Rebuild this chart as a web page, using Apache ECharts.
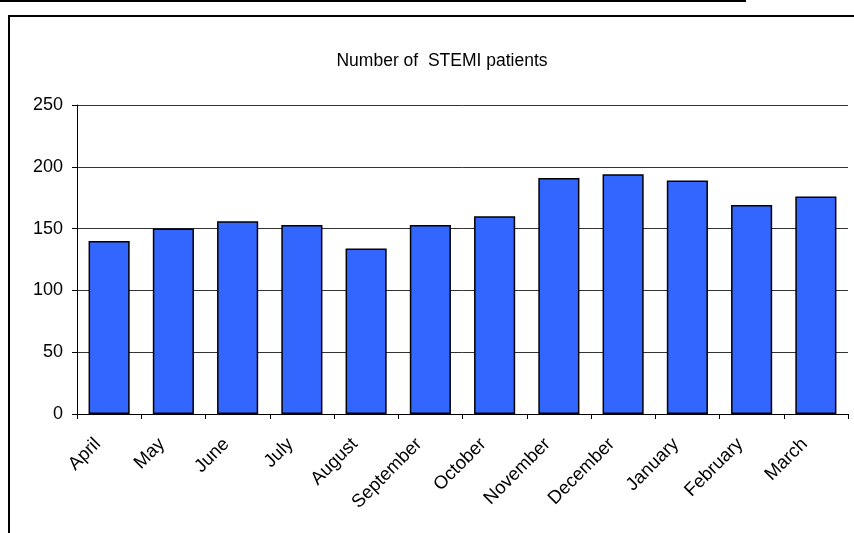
<!DOCTYPE html>
<html>
<head>
<meta charset="utf-8">
<script src="https://cdn.jsdelivr.net/npm/echarts@6/dist/echarts.min.js"></script>
<style>
html,body{margin:0;padding:0;background:#fff;}
#c{width:854px;height:533px;}
</style>
</head>
<body>
<div id="c"></div>
<script>
var categories = ['April','May','June','July','August','September','October','November','December','January','February','March'];
var patients = [140,150,156,153,134,153,160,191,194,189,169,176];
var chartTitle = 'Number of  STEMI patients';

var chart = echarts.init(document.getElementById('c'));
chart.setOption({
  animation: false,
  backgroundColor: '#fff',
  title: {
    text: chartTitle,
    left: 437, top: 47, textAlign: 'center',
    textStyle: {fontFamily: 'Liberation Sans, Arial', fontSize: 17.5, fontWeight: 'normal', color: '#000'}
  },
  graphic: [
    {type: 'rect', shape: {x: 9, y: 16, width: 900, height: 600}, style: {fill: 'none', stroke: '#000', lineWidth: 2}, silent: true, z: -1},
    {type: 'line', shape: {x1: 0, y1: 1, x2: 746, y2: 1}, style: {stroke: '#000', lineWidth: 2}, silent: true}
  ],
  grid: {left: 77, right: 6, top: 105, bottom: 119, containLabel: false},
  xAxis: {
    type: 'category',
    data: categories,
    axisLine: {lineStyle: {color: '#000', width: 1}},
    axisTick: {show: true, length: 5, lineStyle: {color: '#000'}},
    axisLabel: {rotate: 45, margin: 16, padding: [0, 16, 0, 0], fontFamily: 'Liberation Sans, Arial', fontSize: 18.5, color: '#000'}
  },
  yAxis: {
    type: 'value',
    min: 0, max: 250, interval: 50,
    axisLine: {show: true, lineStyle: {color: '#000', width: 1}},
    axisTick: {show: true, length: 5, lineStyle: {color: '#000'}},
    axisLabel: {margin: 14, fontFamily: 'Liberation Sans, Arial', fontSize: 18, color: '#000'},
    splitLine: {lineStyle: {color: '#333', width: 1}}
  },
  series: [{
    type: 'bar',
    data: patients,
    barCategoryGap: '36%',
    itemStyle: {color: '#3366FF', borderColor: '#000', borderWidth: 1.5}
  }]
});
</script>
</body>
</html>
